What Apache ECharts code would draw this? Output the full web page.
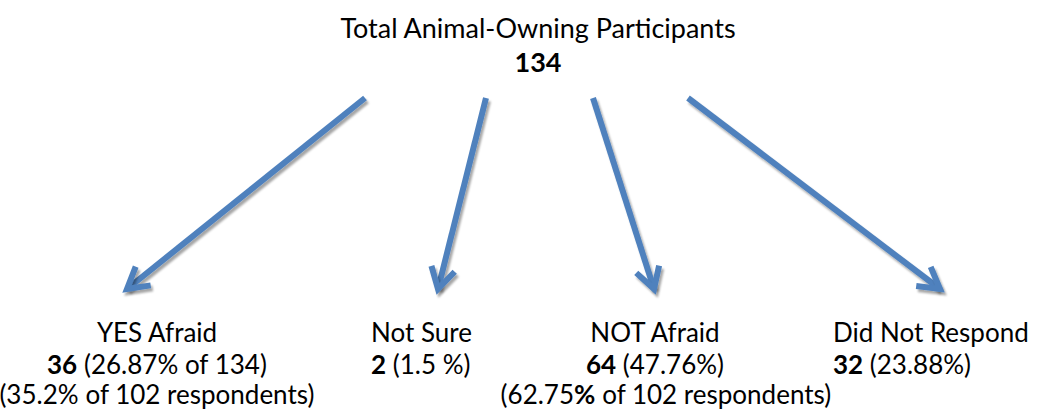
<!DOCTYPE html>
<html>
<head>
<meta charset="utf-8">
<script src="https://cdn.jsdelivr.net/npm/echarts@6/dist/echarts.min.js"></script>
<style>
  html, body { margin: 0; padding: 0; background: #fff; }
  #chart { width: 1048px; height: 410px; }
</style>
</head>
<body>
<div id="chart"></div>
<script>
// 数据
const totalParticipants = 134;
const respondents = 102;
const categories = ['YES Afraid', 'Not Sure', 'NOT Afraid', 'Did Not Respond'];
const counts = [36, 2, 64, 32];
const shareOfTotal = ['26.87% of 134', '1.5 %', '47.76%', '23.88%'];
const shareOfRespondents = ['35.2', null, '62.75', null];

// 布局（像素坐标，y 向下）
const arrowFrom = [[365, 98], [486, 98], [593, 98], [688, 98]];
const arrowTo = [[127, 289], [438, 289], [654, 289], [940, 289]];
const labelX = [157, 371, 655, 833];
const labelAlign = ['center', 'left', 'center', 'left'];
const respLineX = [157, null, 666, null];
const boldPercent = [false, false, true, false];

const FONT = 'Lato, "Open Sans", sans-serif';
const SIZE = 26;
const BLUE = '#4F81BD';

const chart = echarts.init(document.getElementById('chart'), null, { renderer: 'svg' });

function textEl(x, y, text, align, size) {
  const fs = size || SIZE;
  return {
    type: 'text',
    x: x,
    y: y,
    style: {
      text: text,
      fill: '#000',
      fontFamily: FONT,
      fontSize: fs,
      align: align,
      verticalAlign: 'middle',
      rich: {
        b: { fontFamily: FONT, fontSize: fs, fontWeight: 'bold', fill: '#000' },
        n: { fontFamily: FONT, fontSize: fs, fill: '#000' }
      }
    }
  };
}

const graphics = [
  textEl(538, 27, 'Total Animal-Owning Participants', 'center', 27),
  textEl(538, 61, '{b|' + totalParticipants + '}', 'center', 27)
];
categories.forEach((name, i) => {
  graphics.push(textEl(labelX[i], 332, name, labelAlign[i]));
  graphics.push(textEl(labelX[i], 364, '{b|' + counts[i] + '}{n| (' + shareOfTotal[i] + ')}', labelAlign[i]));
  if (shareOfRespondents[i] !== null) {
    const pct = boldPercent[i] ? '{b|%}' : '{n|%}';
    graphics.push(textEl(respLineX[i], 394,
      '{n|(' + shareOfRespondents[i] + '}' + pct + '{n| of ' + respondents + ' respondents)}', 'center'));
  }
});

const arrowData = categories.map((name, i) => arrowFrom[i].concat(arrowTo[i]));

const option = {
  animation: false,
  grid: { left: 0, right: 0, top: 0, bottom: 0 },
  xAxis: { type: 'value', min: 0, max: 1048, show: false },
  yAxis: { type: 'value', min: 0, max: 410, inverse: true, show: false },
  series: [{
    type: 'custom',
    data: arrowData,
    renderItem: function (params, api) {
      const p1 = api.coord([api.value(0), api.value(1)]);
      const p2 = api.coord([api.value(2), api.value(3)]);
      const dx = p1[0] - p2[0], dy = p1[1] - p2[1];
      const len = Math.sqrt(dx * dx + dy * dy);
      const ux = dx / len, uy = dy / len;
      const head = 24, ang = Math.PI / 6;
      const rot = (a) => [
        p2[0] + head * (ux * Math.cos(a) - uy * Math.sin(a)),
        p2[1] + head * (ux * Math.sin(a) + uy * Math.cos(a))
      ];
      const style = {
        stroke: BLUE,
        lineWidth: 6,
        fill: null,
        lineJoin: 'miter',
        lineCap: 'butt',
        shadowColor: 'rgba(0,0,0,0.35)',
        shadowBlur: 2,
        shadowOffsetX: 2,
        shadowOffsetY: 3
      };
      return {
        type: 'group',
        children: [
          { type: 'line', shape: { x1: p1[0], y1: p1[1], x2: p2[0], y2: p2[1] }, style: style },
          { type: 'polyline', shape: { points: [rot(ang), p2, rot(-ang)] }, style: style }
        ]
      };
    }
  }],
  graphic: graphics
};

chart.setOption(option);
</script>
</body>
</html>
